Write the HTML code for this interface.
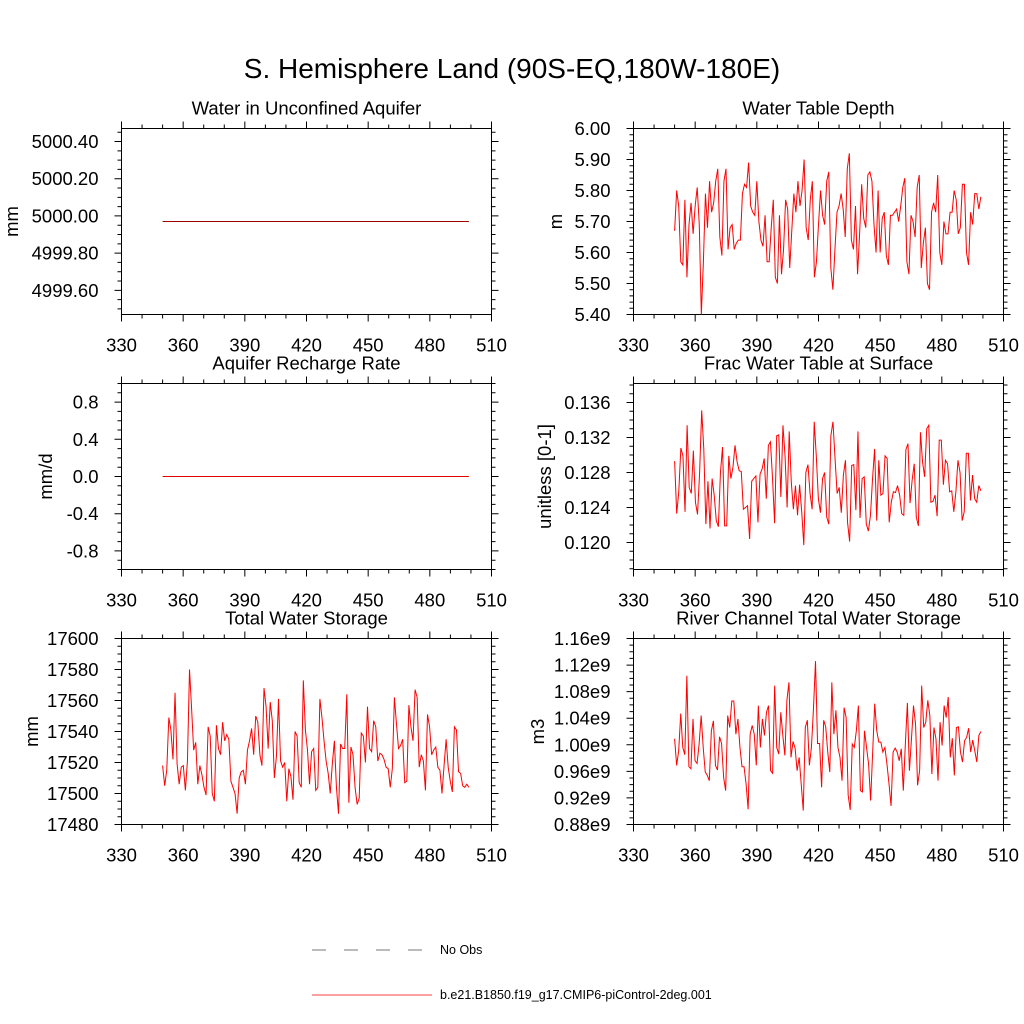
<!DOCTYPE html>
<html><head><meta charset="utf-8"><style>
body{margin:0;background:#fff}
svg{display:block;font-family:"Liberation Sans",Arial,sans-serif}
</style></head><body>
<svg id="chart" width="1024" height="1024" viewBox="0 0 1024 1024">
<text x="512" y="78" font-size="28" text-anchor="middle">S. Hemisphere Land (90S-EQ,180W-180E)</text>
<g>
<line x1="312" y1="950" x2="432" y2="950" stroke="#777" stroke-width="1" stroke-dasharray="14,18"/>
<text x="440" y="954" font-size="12.5">No Obs</text>
<line x1="312" y1="995" x2="432" y2="995" stroke="#f00" stroke-width="0.8"/>
<text x="440" y="999" font-size="12.5">b.e21.B1850.f19_g17.CMIP6-piControl-2deg.001</text>
</g>
</svg>
<script>
const xTicks=[330,360,390,420,450,480,510];
const yearStart=350, yearEnd=499;
const p1Vals=[4999.97,4999.97];
const p3Vals=[0.0,0.0];
const p2Vals=[5.67,5.80,5.75,5.57,5.56,5.77,5.52,5.69,5.76,5.66,5.75,5.81,5.69,5.40,5.57,5.79,5.68,5.83,5.73,5.76,5.83,5.87,5.65,5.59,5.83,5.87,5.61,5.68,5.69,5.61,5.63,5.64,5.64,5.79,5.82,5.81,5.89,5.75,5.73,5.72,5.83,5.70,5.64,5.62,5.72,5.57,5.57,5.68,5.77,5.52,5.50,5.72,5.53,5.61,5.77,5.74,5.55,5.67,5.79,5.73,5.83,5.75,5.80,5.90,5.68,5.64,5.77,5.83,5.52,5.57,5.69,5.80,5.72,5.69,5.83,5.86,5.55,5.48,5.61,5.73,5.75,5.79,5.74,5.65,5.87,5.92,5.64,5.61,5.75,5.53,5.66,5.82,5.71,5.68,5.85,5.86,5.83,5.69,5.60,5.80,5.60,5.71,5.73,5.59,5.56,5.72,5.72,5.73,5.74,5.70,5.75,5.81,5.84,5.57,5.53,5.72,5.70,5.65,5.81,5.85,5.55,5.63,5.68,5.50,5.48,5.73,5.76,5.73,5.85,5.60,5.56,5.70,5.66,5.66,5.73,5.73,5.80,5.77,5.66,5.68,5.82,5.82,5.60,5.56,5.73,5.69,5.79,5.79,5.74,5.78];
const p4Vals=[.1293,.1233,.1258,.1308,.1299,.1235,.1334,.1263,.1256,.1305,.1246,.1232,.1280,.1351,.1307,.1221,.1270,.1216,.1273,.1254,.1225,.1218,.1280,.1309,.1219,.1219,.1299,.1273,.1286,.1311,.1292,.1282,.1281,.1238,.1240,.1242,.1204,.1270,.1273,.1276,.1223,.1278,.1284,.1296,.1250,.1311,.1315,.1273,.1222,.1322,.1323,.1252,.1334,.1299,.1240,.1327,.1269,.1238,.1265,.1231,.1266,.1235,.1197,.1280,.1289,.1256,.1238,.1338,.1299,.1250,.1234,.1273,.1280,.1229,.1221,.1322,.1338,.1296,.1256,.1263,.1234,.1277,.1294,.1223,.1201,.1288,.1289,.1237,.1327,.1228,.1273,.1275,.1221,.1213,.1231,.1273,.1307,.1225,.1294,.1254,.1256,.1299,.1296,.1223,.1246,.1258,.1257,.1265,.1254,.1233,.1231,.1306,.1313,.1245,.1271,.1290,.1229,.1219,.1326,.1292,.1275,.1330,.1334,.1246,.1247,.1254,.1230,.1317,.1317,.1266,.1294,.1290,.1258,.1259,.1235,.1258,.1294,.1280,.1225,.1235,.1302,.1302,.1248,.1277,.1250,.1246,.1265,.1259];
const p5Vals=[17518,17505,17515,17549,17541,17522,17565,17519,17506,17517,17518,17502,17521,17580,17555,17528,17533,17506,17518,17512,17504,17499,17543,17537,17500,17495,17544,17529,17525,17546,17534,17538,17535,17508,17504,17500,17487,17510,17514,17515,17506,17528,17534,17542,17525,17550,17546,17525,17518,17568,17556,17529,17559,17547,17510,17524,17561,17521,17517,17520,17495,17516,17511,17496,17540,17537,17507,17504,17573,17541,17528,17506,17527,17529,17502,17504,17561,17549,17534,17521,17513,17500,17519,17534,17504,17487,17532,17529,17529,17564,17494,17530,17525,17504,17493,17497,17539,17537,17520,17556,17529,17527,17547,17543,17521,17526,17525,17522,17517,17516,17504,17516,17562,17545,17529,17531,17535,17507,17508,17557,17543,17534,17567,17562,17517,17525,17521,17502,17551,17543,17525,17528,17530,17517,17515,17500,17518,17535,17517,17508,17501,17543,17541,17514,17513,17505,17504,17506,17504];
const p6Vals=[1.009,0.969,0.991,1.047,0.996,0.985,1.104,0.967,0.964,1.039,0.976,0.972,1.001,1.044,0.996,0.959,0.954,0.946,1.021,1.036,0.969,0.962,1.012,1.002,0.951,0.931,1.044,1.026,1.066,1.066,1.016,1.039,0.996,0.967,0.967,0.941,0.903,1.016,1.029,1.016,0.969,1.059,0.996,1.039,1.014,1.049,1.059,0.961,0.957,1.089,0.996,0.986,1.049,1.014,0.984,1.067,1.094,0.981,1.005,0.995,0.961,0.981,0.941,0.901,1.026,1.037,0.969,0.996,1.054,1.126,1.002,1.002,0.936,1.037,1.027,0.989,0.959,1.094,1.016,1.052,0.996,0.981,0.946,1.056,1.041,0.924,0.902,1.001,0.996,1.021,1.059,0.931,0.929,1.021,0.996,0.971,0.916,0.989,1.062,1.021,1.004,1.004,0.989,0.996,0.971,0.941,0.908,0.989,0.995,0.989,0.976,0.994,0.931,1.001,1.063,0.961,1.009,1.059,1.031,0.939,0.961,1.089,1.026,1.034,1.067,1.044,0.956,1.026,1.009,0.946,1.034,0.999,1.059,1.041,1.072,0.981,1.010,0.954,1.026,1.027,0.989,0.974,1.006,1.011,1.025,0.989,1.007,0.991,0.974,1.014,1.020];
const p1Ticks=[4999.6,4999.8,5000.0,5000.2,5000.4];
const p1Labels=["4999.60","4999.80","5000.00","5000.20","5000.40"];
const p2Ticks=[5.4,5.5,5.6,5.7,5.8,5.9,6.0];
const p2Labels=["5.40","5.50","5.60","5.70","5.80","5.90","6.00"];
const p3Ticks=[-0.8,-0.4,0.0,0.4,0.8];
const p3Labels=["-0.8","-0.4","0.0","0.4","0.8"];
const p4Ticks=[0.120,0.124,0.128,0.132,0.136];
const p4Labels=["0.120","0.124","0.128","0.132","0.136"];
const p5Ticks=[17480,17500,17520,17540,17560,17580,17600];
const p5Labels=["17480","17500","17520","17540","17560","17580","17600"];
const p6Ticks=[0.88,0.92,0.96,1.00,1.04,1.08,1.12,1.16];
const p6Labels=["0.88e9","0.92e9","0.96e9","1.00e9","1.04e9","1.08e9","1.12e9","1.16e9"];

const NS="http://www.w3.org/2000/svg";
const svg=document.getElementById('chart');
function mk(tag,attrs,parent){const e=document.createElementNS(NS,tag);for(const k in attrs)e.setAttribute(k,attrs[k]);(parent||svg).appendChild(e);return e;}

const panels=[
 {key:'water-unconfined-aquifer',title:'Water in Unconfined Aquifer',ylab:'mm',L:121.5,T:128.5,W:370,H:186,ymin:4999.47,ymax:5000.47,ticks:p1Ticks,labels:p1Labels,minor:0.05,vals:p1Vals,ylx:12,col:'#a00000'},
 {key:'water-table-depth',title:'Water Table Depth',ylab:'m',L:633.5,T:128.5,W:370,H:186,ymin:5.40,ymax:6.00,ticks:p2Ticks,labels:p2Labels,minor:0.02,vals:p2Vals,ylx:556},
 {key:'aquifer-recharge-rate',title:'Aquifer Recharge Rate',ylab:'mm/d',L:121.5,T:383.5,W:370,H:186,ymin:-1,ymax:1,ticks:p3Ticks,labels:p3Labels,minor:0.1,vals:p3Vals,ylx:46,col:'#e00000'},
 {key:'frac-water-table-surface',title:'Frac Water Table at Surface',ylab:'unitless [0-1]',L:633.5,T:383.5,W:370,H:186,ymin:0.11691,ymax:0.13817,ticks:p4Ticks,labels:p4Labels,minor:0.001,vals:p4Vals,ylx:545},
 {key:'total-water-storage',title:'Total Water Storage',ylab:'mm',L:121.5,T:638.5,W:370,H:186,ymin:17480,ymax:17600,ticks:p5Ticks,labels:p5Labels,minor:5,vals:p5Vals,ylx:32},
 {key:'river-channel-storage',title:'River Channel Total Water Storage',ylab:'m3',L:633.5,T:638.5,W:370,H:186,ymin:0.88,ymax:1.16,ticks:p6Ticks,labels:p6Labels,minor:0.01,vals:p6Vals,ylx:538}
];

panels.forEach(p=>{
 const g=mk('g',{});
 
 
 const xs=v=>p.L+(v-330)/(510-330)*p.W;
 const ys=v=>p.T+p.H-(v-p.ymin)/(p.ymax-p.ymin)*p.H;
 const t=mk('text',{x:p.L+p.W/2,y:p.T-14,'font-size':18.5,'text-anchor':'middle'},g);
 t.textContent=p.title;
 
 
 const yl=mk('text',{x:p.ylx,y:p.T+p.H/2,'font-size':18.5,'text-anchor':'middle',transform:`rotate(-90 ${p.ylx} ${p.T+p.H/2})`,dy:6},g);
 yl.textContent=p.ylab;
 
 
 const fr=mk('rect',{x:p.L,y:p.T,width:p.W,height:p.H,fill:'none',stroke:'#000','stroke-width':1},g);
 
 
 let d='';
 for(let v=330;v<=510;v+=10){
  const x=xs(v);const major=(v-330)%30===0;const len=major?7:4;
  d+=`M${x} ${p.T+p.H}v${len}M${x} ${p.T}v${-len}`;
 }
 xTicks.forEach(v=>{
  const lb=mk('text',{x:xs(v),y:p.T+p.H+37,'font-size':18.5,'text-anchor':'middle'},g);
  lb.textContent=v;
  
  
 });
 const nmin=Math.ceil(p.ymin/p.minor-1e-6),nmax=Math.floor(p.ymax/p.minor+1e-6);
 for(let k=nmin;k<=nmax;k++){
  const v=k*p.minor;const y=ys(v);
  d+=`M${p.L} ${y}h-4M${p.L+p.W} ${y}h4`;
 }
 p.ticks.forEach((v,i)=>{
  const y=ys(v);
  d+=`M${p.L} ${y}h-7M${p.L+p.W} ${y}h7`;
  const lb=mk('text',{x:p.L-23,y:y+6.5,'font-size':18.5,'text-anchor':'end'},g);
  lb.textContent=p.labels[i];
  
  
 });
 const tk=mk('path',{d:d,stroke:'#000','stroke-width':1,fill:'none'},g);
 
 
 const n=p.vals.length;
 const pts=p.vals.map((v,i)=>{const yr=yearStart+i*(yearEnd-yearStart)/(n-1);return xs(yr).toFixed(2)+','+ys(v).toFixed(2);}).join(' ');
 const ln=mk('polyline',{points:pts,fill:'none',stroke:p.col||'#f00','stroke-width':1},g);
 
 
});
</script>
</body></html>
